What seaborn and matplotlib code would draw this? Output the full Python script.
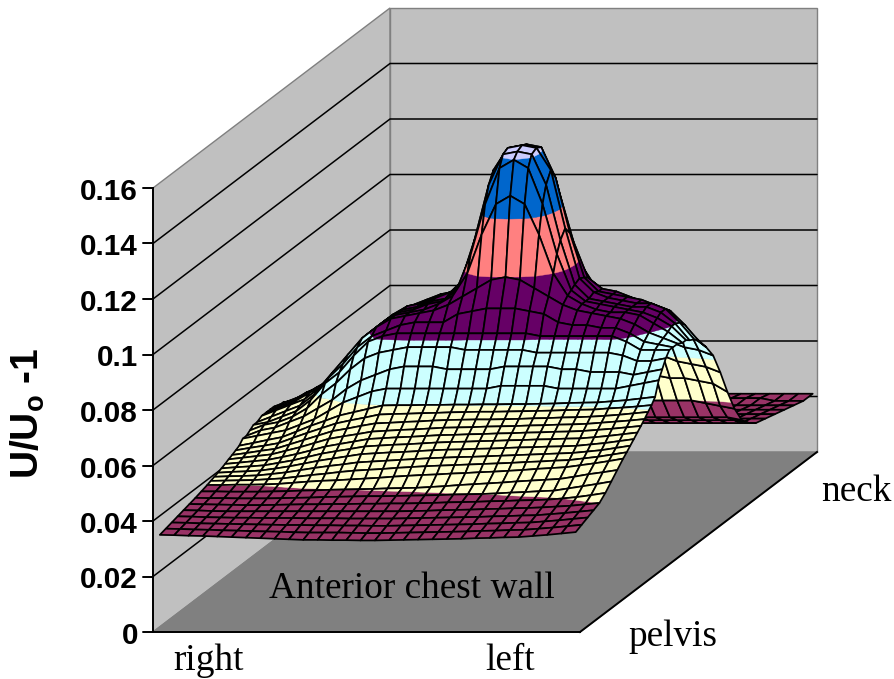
"""
Surface chart of U/Uo - 1 over the anterior chest wall, oblique 3D look.
Outputs:
    out.png
"""
import numpy as np
import pandas as pd
import matplotlib
matplotlib.use("Agg")
import matplotlib.pyplot as plt
from matplotlib.collections import PolyCollection
from matplotlib.colors import to_rgba
import seaborn as sns

# ─── Data ────────────────────────────────────────────────────────────────────
TICK_VALUES = [0, 0.02, 0.04, 0.06, 0.08, 0.1, 0.12, 0.14, 0.16]
TICK_LABELS = ["0", "0.02", "0.04", "0.06", "0.08", "0.1", "0.12", "0.14", "0.16"]
BAND_COLORS = ["#FFFFFF", "#993366", "#FFFFCC", "#CCFFFF", "#660066", "#FF8080", "#0066CC", "#CCCCFF"]

# depth of each row, 0 = pelvis end, 1 = neck end
ROW_DEPTH = [0, .025, .05, .075, .1, .125, .15, .175, .2, .215, .23, .245, .26, .275, .29,
             .305, .32, .335, .35, .365, .38, .395, .41, .43, .45, .465, .48, .5, .52, .535,
             .55, .58, .61, .64, .67, .7, .73, .76, .8, .84, .88, .92, .96, 1]

# surface height in thousandths, one row per depth, right to left of the patient
Z_MILLI = [
    [35.0, 34.9, 34.7, 34.6, 34.4, 34.2, 34.0, 33.8, 33.6, 33.4, 33.2, 33.2, 33.1, 33.1, 33.0, 33.0, 33.1, 33.2, 33.3, 33.4, 33.5, 33.6, 33.8, 33.9, 34.1, 34.2, 34.6, 35.0, 35.5, 36.0],
    [35.6, 35.5, 35.3, 35.2, 35.0, 34.9, 34.7, 34.6, 34.5, 34.3, 34.2, 34.2, 34.2, 34.1, 34.0, 34.0, 34.1, 34.2, 34.3, 34.4, 34.5, 34.6, 34.8, 34.9, 35.1, 35.2, 35.6, 36.0, 36.5, 37.0],
    [36.2, 36.1, 35.9, 35.8, 35.7, 35.6, 35.5, 35.4, 35.3, 35.3, 35.2, 35.2, 35.1, 35.1, 35.0, 35.0, 35.1, 35.2, 35.3, 35.4, 35.5, 35.6, 35.8, 35.9, 36.1, 36.2, 36.6, 37.0, 37.5, 38.0],
    [36.8, 36.7, 36.5, 36.4, 36.3, 36.3, 36.2, 36.2, 36.2, 36.1, 36.1, 36.1, 36.0, 36.0, 36.0, 36.0, 36.1, 36.2, 36.3, 36.4, 36.5, 36.6, 36.8, 36.9, 37.1, 37.2, 37.6, 38.0, 38.5, 39.0],
    [37.4, 37.3, 37.1, 37.0, 37.0, 37.0, 37.0, 37.0, 37.0, 37.0, 37.0, 37.0, 37.0, 37.0, 37.0, 37.0, 37.1, 37.2, 37.4, 37.5, 37.6, 37.8, 37.9, 38.1, 38.2, 38.4, 38.7, 39.0, 39.5, 40.0],
    [38.0, 37.9, 37.8, 37.7, 37.6, 37.6, 37.7, 37.8, 37.9, 37.9, 38.0, 38.0, 38.1, 38.1, 38.2, 38.2, 38.3, 38.4, 38.6, 38.7, 38.8, 39.0, 39.1, 39.3, 39.4, 39.6, 40.0, 40.5, 41.2, 42.0],
    [38.6, 38.5, 38.5, 38.4, 38.4, 38.4, 38.5, 38.6, 38.7, 38.9, 39.0, 39.1, 39.2, 39.2, 39.3, 39.4, 39.5, 39.6, 39.8, 39.9, 40.0, 40.2, 40.5, 40.7, 41.0, 41.2, 42.0, 42.8, 43.6, 44.5],
    [39.3, 39.3, 39.2, 39.2, 39.2, 39.3, 39.4, 39.6, 39.7, 39.9, 40.0, 40.1, 40.2, 40.4, 40.5, 40.6, 40.9, 41.2, 41.6, 41.9, 42.2, 42.5, 42.9, 43.2, 43.5, 43.8, 44.6, 45.5, 46.2, 47.0],
    [40.0, 40.0, 40.1, 40.1, 40.2, 40.4, 40.8, 41.2, 41.5, 41.7, 42.0, 42.3, 42.6, 43.0, 43.3, 43.6, 43.8, 44.1, 44.3, 44.6, 44.8, 45.1, 45.4, 45.8, 46.1, 46.4, 47.1, 47.8, 48.6, 49.5],
    [40.5, 40.6, 40.7, 40.8, 41.1, 41.4, 42.0, 42.6, 43.1, 43.7, 44.2, 44.5, 44.8, 45.2, 45.5, 45.8, 46.0, 46.2, 46.4, 46.6, 46.8, 47.0, 47.3, 47.5, 47.8, 48.0, 48.6, 49.2, 50.0, 50.8],
    [41.0, 41.2, 41.3, 41.5, 42.0, 42.6, 43.4, 44.2, 44.9, 45.5, 46.2, 46.5, 46.8, 47.1, 47.4, 47.7, 47.9, 48.1, 48.2, 48.4, 48.6, 48.8, 49.0, 49.2, 49.4, 49.6, 50.1, 50.6, 51.4, 52.2],
    [41.5, 41.8, 42.0, 42.3, 43.0, 43.8, 44.8, 45.8, 46.6, 47.4, 48.2, 48.5, 48.8, 49.0, 49.3, 49.6, 49.8, 49.9, 50.1, 50.2, 50.4, 50.6, 50.7, 50.9, 51.0, 51.2, 51.7, 52.2, 52.9, 53.6],
    [42.1, 42.5, 42.8, 43.2, 44.1, 45.0, 46.2, 47.4, 48.3, 49.1, 50.0, 50.3, 50.6, 50.8, 51.1, 51.4, 51.6, 51.7, 51.9, 52.0, 52.2, 52.3, 52.5, 52.6, 52.8, 52.9, 53.3, 53.8, 54.4, 55.0],
    [42.7, 43.2, 43.7, 44.2, 45.2, 46.3, 47.6, 49.0, 49.9, 50.8, 51.7, 52.0, 52.3, 52.5, 52.8, 53.1, 53.2, 53.4, 53.5, 53.7, 53.8, 54.0, 54.1, 54.3, 54.4, 54.6, 55.0, 55.4, 55.9, 56.4],
    [43.4, 44.0, 44.6, 45.2, 46.5, 47.8, 49.3, 50.8, 51.7, 52.5, 53.4, 53.7, 54.0, 54.2, 54.5, 54.8, 54.9, 55.0, 55.2, 55.3, 55.4, 55.6, 55.7, 55.9, 56.0, 56.2, 56.6, 57.0, 57.4, 57.9],
    [44.0, 44.7, 45.5, 46.2, 47.8, 49.4, 51.0, 52.6, 53.5, 54.5, 55.4, 55.6, 55.9, 56.1, 56.4, 56.6, 56.7, 56.8, 56.8, 56.9, 57.0, 57.2, 57.3, 57.5, 57.6, 57.8, 58.1, 58.5, 59.0, 59.5],
    [44.7, 45.6, 46.4, 47.3, 49.2, 51.0, 52.7, 54.4, 55.5, 56.5, 57.6, 57.8, 57.9, 58.1, 58.2, 58.4, 58.5, 58.6, 58.6, 58.7, 58.8, 58.9, 59.0, 59.2, 59.3, 59.4, 59.8, 60.1, 60.5, 61.0],
    [45.4, 46.4, 47.5, 48.5, 50.5, 52.6, 54.4, 56.3, 57.5, 58.7, 59.9, 60.0, 60.0, 60.1, 60.1, 60.2, 60.2, 60.3, 60.3, 60.4, 60.4, 60.5, 60.6, 60.8, 60.9, 61.0, 61.4, 61.8, 62.4, 63.0],
    [47, 48, 49, 50, 52, 54, 57, 60, 62, 64, 65, 65, 65, 65, 65, 65, 65, 65, 66, 66, 66, 66, 65, 65, 65, 65, 65, 66, 67, 68],
    [47, 49, 50, 52, 54, 57, 60, 64, 67, 69, 71, 72, 72, 72, 71, 71, 71, 71, 72, 72, 72, 72, 71, 71, 70, 70, 70, 69, 70, 71],
    [48, 50, 51, 53, 56, 61, 65, 70, 74, 76, 77, 78, 78, 78, 78, 77, 77, 77, 77, 77, 76, 76, 76, 76, 76, 76, 75, 73, 73, 74],
    [49, 50, 52, 54, 58, 64, 68, 74, 79, 81, 82, 82, 82, 82, 82, 82, 82, 82, 82, 82, 81, 81, 81, 81, 81, 81, 79, 76, 76, 76],
    [49, 51, 53, 55, 59, 65, 70, 76, 80, 82, 84, 85, 85, 85, 88, 89, 90, 90, 90, 89, 88, 85, 84, 84, 83, 83, 81, 78, 77, 76],
    [50, 52, 54, 56, 60, 66, 72, 78, 82, 85, 86, 87, 88, 90, 93, 96, 99, 100, 99, 96, 93, 90, 88, 87, 86, 85, 83, 80, 78, 76],
    [50, 52, 54, 57, 60, 66, 72, 78, 82, 85, 86, 87, 89, 92, 100, 114, 125, 128, 125, 114, 100, 92, 89, 87, 86, 86, 85, 82, 79, 75],
    [50, 52, 54, 57, 60, 66, 72, 78, 82, 85, 86, 88, 89, 93, 106, 124, 137, 140, 137, 124, 106, 93, 89, 88, 87, 86, 85, 83, 80, 75],
    [50, 52, 54, 57, 60, 66, 72, 78, 82, 85, 86, 88, 89, 94, 110, 130, 141, 142, 141, 130, 110, 94, 89, 88, 87, 86, 86, 84, 80, 74],
    [49, 51, 54, 56, 60, 65, 71, 77, 82, 85, 86, 88, 90, 95, 113, 134, 142, 143, 142, 134, 113, 95, 90, 88, 87, 86, 86, 84, 79, 73],
    [49, 50, 53, 55, 59, 64, 70, 76, 81, 84, 86, 88, 89, 94, 110, 130, 141, 142, 141, 130, 110, 94, 89, 88, 87, 86, 84, 82, 77, 71],
    [48, 50, 52, 54, 58, 63, 69, 75, 80, 83, 85, 87, 89, 93, 106, 124, 137, 140, 137, 124, 106, 93, 89, 88, 86, 84, 82, 79, 74, 69],
    [46, 48, 50, 53, 56, 61, 67, 73, 78, 81, 83, 85, 87, 91, 99, 113, 124, 127, 124, 113, 99, 91, 87, 85, 84, 82, 80, 76, 71, 67],
    [44, 46, 48, 50, 53, 58, 62, 66, 70, 72, 74, 75, 76, 78, 80, 84, 87, 88, 87, 84, 80, 78, 76, 75, 73, 70, 67, 65, 64, 62],
    [43, 44, 46, 47, 49, 52, 54, 56, 59, 61, 63, 64, 65, 66, 67, 68, 69, 69, 69, 68, 67, 66, 65, 64, 62, 60, 58, 57, 56, 54],
    [40, 41, 42, 43, 44, 45, 46, 47, 48, 49, 50, 51, 51, 52, 52, 52, 52, 52, 52, 52, 52, 52, 51, 51, 51, 50, 50, 49, 48, 45],
    [36, 36, 37, 37, 38, 38, 38, 39, 39, 39, 39, 40, 40, 40, 40, 40, 40, 40, 40, 40, 40, 40, 40, 40, 40, 40, 40, 39, 38, 37],
    [30, 30, 31, 31, 31, 31, 32, 32, 32, 32, 32, 32, 32, 32, 32, 32, 32, 32, 32, 32, 32, 32, 32, 32, 32, 32, 32, 32, 32, 31],
    [28, 28, 28, 28, 28, 29, 29, 29, 29, 29, 29, 29, 29, 29, 29, 29, 29, 29, 29, 29, 29, 29, 29, 29, 29, 29, 29, 29, 29, 28],
    [26, 26, 26, 26, 26, 26, 26, 26, 26, 26, 26, 26, 26, 26, 26, 26, 26, 26, 26, 26, 26, 26, 26, 26, 26, 26, 26, 26, 26, 26],
    [25, 25, 25, 25, 25, 25, 25, 25, 25, 25, 25, 25, 25, 25, 25, 25, 25, 25, 25, 25, 25, 25, 25, 25, 25, 25, 25, 25, 25, 25],
    [24, 24, 24, 24, 24, 24, 24, 24, 24, 24, 24, 24, 24, 24, 24, 24, 24, 24, 24, 24, 24, 24, 24, 24, 24, 24, 24, 24, 24, 24],
    [23, 23, 23, 23, 23, 23, 23, 23, 23, 23, 23, 23, 23, 23, 23, 23, 23, 23, 23, 23, 23, 23, 23, 23, 23, 23, 23, 23, 23, 23],
    [22, 22, 22, 22, 22, 22, 22, 22, 22, 22, 22, 22, 22, 22, 22, 22, 22, 22, 22, 22, 22, 22, 22, 22, 22, 22, 22, 22, 22, 22],
    [22, 22, 22, 22, 22, 22, 22, 22, 22, 22, 22, 22, 22, 22, 22, 22, 22, 22, 22, 22, 22, 22, 22, 22, 22, 22, 22, 21, 21, 21],
    [21, 21, 21, 21, 21, 21, 21, 21, 21, 21, 21, 21, 21, 21, 21, 21, 21, 21, 21, 21, 21, 21, 21, 21, 21, 21, 21, 21, 21, 21],
]

# ─── Oblique projection ──────────────────────────────────────────────────────
ORIGIN_X, ORIGIN_Y = 153, 632
WIDTH_PX, DEPTH_X_PX, DEPTH_Y_PX, HEIGHT_PX = 427, 237, 180, 2775
ZMAX = 0.16


def project(x, d, z):
    return ORIGIN_X + WIDTH_PX * x + DEPTH_X_PX * d, ORIGIN_Y - DEPTH_Y_PX * d - HEIGHT_PX * z


def clip_side(pts, level, keep_above):
    out = []
    for i, p in enumerate(pts):
        q = pts[(i + 1) % len(pts)]
        p_in = p[2] >= level if keep_above else p[2] <= level
        q_in = q[2] >= level if keep_above else q[2] <= level
        if p_in:
            out.append(p)
        if p_in != q_in:
            t = (level - p[2]) / (q[2] - p[2])
            out.append(tuple(a + t * (b - a) for a, b in zip(p, q)))
    return out


# ─── Figure ──────────────────────────────────────────────────────────────────
sns.set_theme(style="white")
plt.rcParams["mathtext.fontset"] = "custom"
plt.rcParams["mathtext.bf"] = "Liberation Sans:bold"
palette = sns.color_palette(BAND_COLORS)

fig = plt.figure(figsize=(8.95, 6.79), dpi=100)
ax = fig.add_axes([0, 0, 1, 1])

# walls and floor
floor = [project(0, 0, 0), project(1, 0, 0), project(1, 1, 0), project(0, 1, 0)]
left_wall = [project(0, 0, 0), project(0, 1, 0), project(0, 1, ZMAX), project(0, 0, ZMAX)]
back_wall = [project(0, 1, 0), project(1, 1, 0), project(1, 1, ZMAX), project(0, 1, ZMAX)]
ax.add_patch(plt.Polygon(left_wall, fc="#C0C0C0", ec="#808080", lw=1.0, zorder=1))
ax.add_patch(plt.Polygon(back_wall, fc="#C0C0C0", ec="#808080", lw=1.0, zorder=1))
ax.add_patch(plt.Polygon(floor, fc="#808080", ec="#808080", lw=1.0, zorder=1))

# gridlines through seaborn, one unit per tick
grid_rows = []
for v in TICK_VALUES[1:-1]:
    for x, d in [(0, 0), (0, 1), (1, 1)]:
        px, py = project(x, d, v)
        grid_rows.append({"px": px, "py": py, "tick": v})
grid = pd.DataFrame(grid_rows)
sns.lineplot(data=grid, x="px", y="py", units="tick", estimator=None, sort=False,
             color="black", lw=1.1, ax=ax, zorder=2)
ax.set_xlim(0, 895)
ax.set_ylim(679, 0)
ax.axis("off")

# front axis lines and ticks
for a, b in [((0, 0, 0), (0, 0, ZMAX)), ((0, 0, 0), (1, 0, 0)), ((1, 0, 0), (1, 1, 0))]:
    pa, pb = project(*a), project(*b)
    ax.plot([pa[0], pb[0]], [pa[1], pb[1]], color="black", lw=1.4, zorder=3, solid_capstyle="projecting")

for v, lab in zip(TICK_VALUES, TICK_LABELS):
    px, py = project(0, 0, v)
    ax.plot([px - 10, px], [py, py], color="black", lw=1.4, zorder=3)
    ax.text(px - 15, py + 1, lab, ha="right", va="center_baseline", fontsize=21.3,
            fontweight="bold", family="Liberation Sans", color="black")

# surface, painted from the neck end forward and from the far side to the near side
z_grid = np.array(Z_MILLI) / 1000.0
n_rows, n_cols = z_grid.shape
x_pos = np.linspace(0.016, 0.99, n_cols)
levels = TICK_VALUES + [1]

verts, faces, edges, widths = [], [], [], []
for r in range(n_rows - 2, -1, -1):
    for c in range(n_cols - 1):
        quad = [(x_pos[c], ROW_DEPTH[r], z_grid[r, c]),
                (x_pos[c + 1], ROW_DEPTH[r], z_grid[r, c + 1]),
                (x_pos[c + 1], ROW_DEPTH[r + 1], z_grid[r + 1, c + 1]),
                (x_pos[c], ROW_DEPTH[r + 1], z_grid[r + 1, c])]
        for b in range(len(levels) - 1):
            part = clip_side(quad, levels[b], True)
            if len(part) >= 3:
                part = clip_side(part, levels[b + 1], False)
            if len(part) >= 3:
                verts.append([project(*p) for p in part])
                col = to_rgba(palette[b])
                faces.append(col)
                edges.append(col)
                widths.append(0.3)
        verts.append([project(*p) for p in quad])
        faces.append((0, 0, 0, 0))
        edges.append((0, 0, 0, 1))
        widths.append(1.25)

surface = PolyCollection(verts, facecolors=faces, edgecolors=edges, linewidths=widths, zorder=4)
ax.add_collection(surface)

# ─── Labels ──────────────────────────────────────────────────────────────────
serif = dict(family="Liberation Serif", fontsize=26.8, color="black", ha="center", va="center")
ax.text(412, 589, "Anterior chest wall", zorder=5, **serif)
ax.text(209, 661, "right", **serif)
ax.text(510, 661, "left", **serif)
ax.text(673, 637, "pelvis", **serif)
ax.text(856, 492, "neck", **serif)
ax.text(28, 413, r"$\mathbf{U/U_o}$ -1", rotation=90, ha="center", va="center",
        fontsize=28, fontweight="bold", family="Liberation Sans", color="black")

fig.savefig("out.png", dpi=100)
